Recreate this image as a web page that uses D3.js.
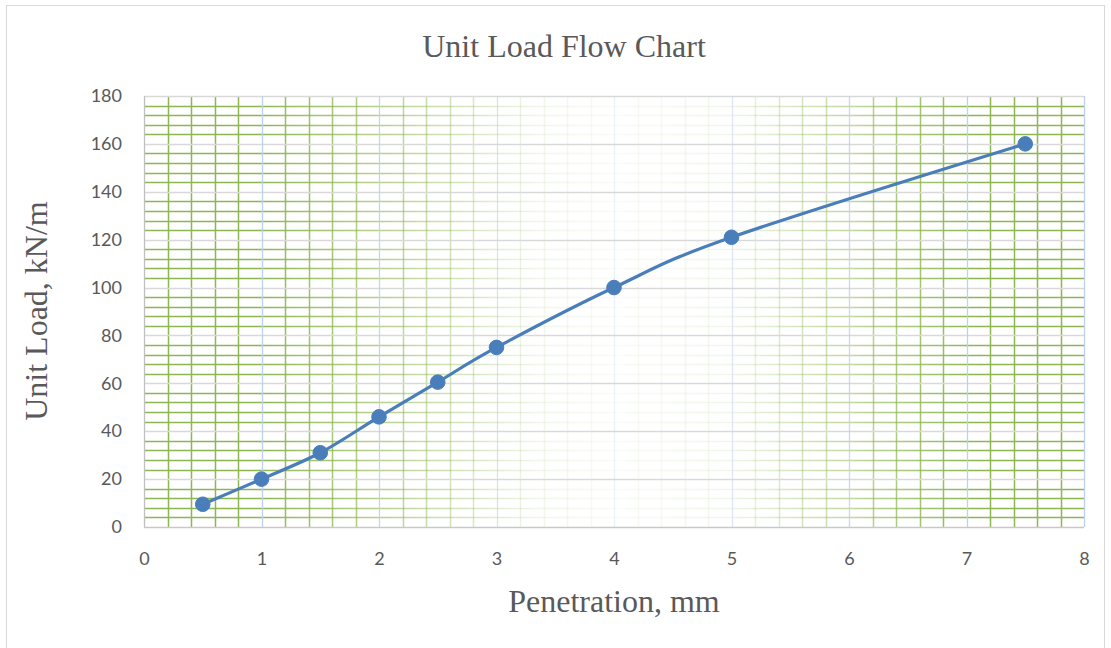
<!DOCTYPE html>
<html>
<head>
<meta charset="utf-8">
<script src="https://cdn.jsdelivr.net/npm/d3@7/dist/d3.min.js"></script>
<style>
  html, body { margin: 0; padding: 0; background: #fff; }
  svg { display: block; }
</style>
</head>
<body>
<div id="chart"></div>
<script>
// ---- data ----
const penetration = [0.5, 1, 1.5, 2, 2.5, 3, 4, 5, 7.5];
const unitLoad = [9.5, 20, 31, 46, 60.5, 75, 100, 121, 160];
const xTicks = [0, 1, 2, 3, 4, 5, 6, 7, 8];
const yTicks = [0, 20, 40, 60, 80, 100, 120, 140, 160, 180];
const titleText = "Unit Load Flow Chart";
const xTitle = "Penetration, mm";
const yTitle = "Unit Load, kN/m";

const W = 1111, H = 648;
const m = { left: 144, right: 1111 - 1084, top: 96, bottom: 648 - 527 };

const svg = d3.select("#chart").append("svg").attr("width", W).attr("height", H);

// outer border
svg.append("rect").attr("x", 6.5).attr("y", 5.5).attr("width", 1098).attr("height", 660)
  .attr("fill", "#fff").attr("stroke", "#d9d9d9").attr("stroke-width", 1);

const x = d3.scaleLinear().domain([0, 8]).range([m.left, W - m.right]);
const y = d3.scaleLinear().domain([0, 180]).range([H - m.bottom, m.top]);

// gradients for gridlines
const defs = svg.append("defs");
function makeGrad(id, color, stops) {
  const gr = defs.append("linearGradient").attr("id", id)
    .attr("gradientUnits", "userSpaceOnUse")
    .attr("x1", x(0)).attr("x2", x(8)).attr("y1", 0).attr("y2", 0);
  stops.forEach(([o, a]) => gr.append("stop").attr("offset", o).attr("stop-color", color).attr("stop-opacity", a));
}
makeGrad("gg", "#8db650", [[0, 1], [0.12, 1], [0.28, 0.55], [0.42, 0.12], [0.5, 0.05], [0.62, 0.12], [0.74, 0.5], [0.88, 1], [1, 1]]);
makeGrad("gb", "#bcd0ea", [[0, 1], [0.2, 0.95], [0.38, 0.6], [0.5, 0.3], [0.62, 0.5], [0.8, 0.95], [1, 1]]);

const g = svg.append("g");

// minor gridlines (green)
const xMinor = d3.range(0, 8.0001, 0.2).filter(v => Math.abs(v - Math.round(v)) > 1e-6);
const yMinor = d3.range(0, 180.0001, 4).filter(v => v % 20 !== 0);
g.selectAll(".hm").data(yMinor).join("line")
  .attr("x1", x(0)).attr("x2", x(8))
  .attr("y1", d => Math.round(y(d)) + 0.5).attr("y2", d => Math.round(y(d)) + 0.5)
  .attr("stroke", "url(#gg)").attr("stroke-width", 1.5);
g.selectAll(".vm").data(xMinor).join("line")
  .attr("y1", y(0)).attr("y2", y(180))
  .attr("x1", d => Math.round(x(d)) + 0.5).attr("x2", d => Math.round(x(d)) + 0.5)
  .attr("stroke", "url(#gg)").attr("stroke-width", 1.5);

// major gridlines
g.selectAll(".hM").data(yTicks.filter(v => v > 0)).join("line")
  .attr("x1", x(0)).attr("x2", x(8))
  .attr("y1", d => Math.round(y(d)) + 0.5).attr("y2", d => Math.round(y(d)) + 0.5)
  .attr("stroke", "#d9d9d9").attr("stroke-width", 1.3);
g.selectAll(".vM").data(xTicks.filter(v => v > 0)).join("line")
  .attr("y1", y(0)).attr("y2", y(180))
  .attr("x1", d => Math.round(x(d)) + 0.5).attr("x2", d => Math.round(x(d)) + 0.5)
  .attr("stroke", "url(#gb)").attr("stroke-width", 1.3);

// axes lines
g.append("line").attr("x1", x(0)).attr("x2", x(8)).attr("y1", y(0) + 0.5).attr("y2", y(0) + 0.5)
  .attr("stroke", "#c8c8c8").attr("stroke-width", 1.3);
g.append("line").attr("x1", x(0) + 0.5).attr("x2", x(0) + 0.5).attr("y1", y(0)).attr("y2", y(180))
  .attr("stroke", "#bfbfbf").attr("stroke-width", 1.3);

// tick labels via axes
const xAxis = svg.append("g").attr("transform", `translate(0,${y(0)})`)
  .call(d3.axisBottom(x).tickValues(xTicks).tickSize(0).tickPadding(25).tickFormat(d3.format("d")));
const yAxis = svg.append("g").attr("transform", `translate(${x(0)},0)`)
  .call(d3.axisLeft(y).tickValues(yTicks).tickSize(0).tickPadding(22).tickFormat(d3.format("d")));
[xAxis, yAxis].forEach(a => {
  a.select(".domain").remove();
  a.selectAll("text").attr("fill", "#595959").style("font-family", "Lato, 'Open Sans', sans-serif").style("font-size", "18px");
});

// line
const line = d3.line().x((d, i) => x(penetration[i])).y(d => y(d)).curve(d3.curveCatmullRom.alpha(0));
svg.append("path").datum(unitLoad).attr("d", line)
  .attr("fill", "none").attr("stroke", "#4a7ebb").attr("stroke-width", 3.2);
svg.selectAll(".pt").data(unitLoad).join("circle")
  .attr("cx", (d, i) => x(penetration[i])).attr("cy", d => y(d)).attr("r", 7.3)
  .attr("fill", "#4a7ebb").attr("stroke", "#4a7ebb").attr("stroke-width", 1);

// titles
const serif = "'Liberation Serif', 'Times New Roman', serif";
svg.append("text").attr("x", 564).attr("y", 57).attr("text-anchor", "middle")
  .style("font-family", serif).style("font-size", "32px").attr("fill", "#595959").text(titleText);
svg.append("text").attr("x", 614).attr("y", 612).attr("text-anchor", "middle")
  .style("font-family", serif).style("font-size", "32px").attr("fill", "#595959").text(xTitle);
svg.append("text").attr("transform", "translate(47,311) rotate(-90)").attr("text-anchor", "middle")
  .style("font-family", serif).style("font-size", "32px").attr("fill", "#595959").text(yTitle);
</script>
</body>
</html>
